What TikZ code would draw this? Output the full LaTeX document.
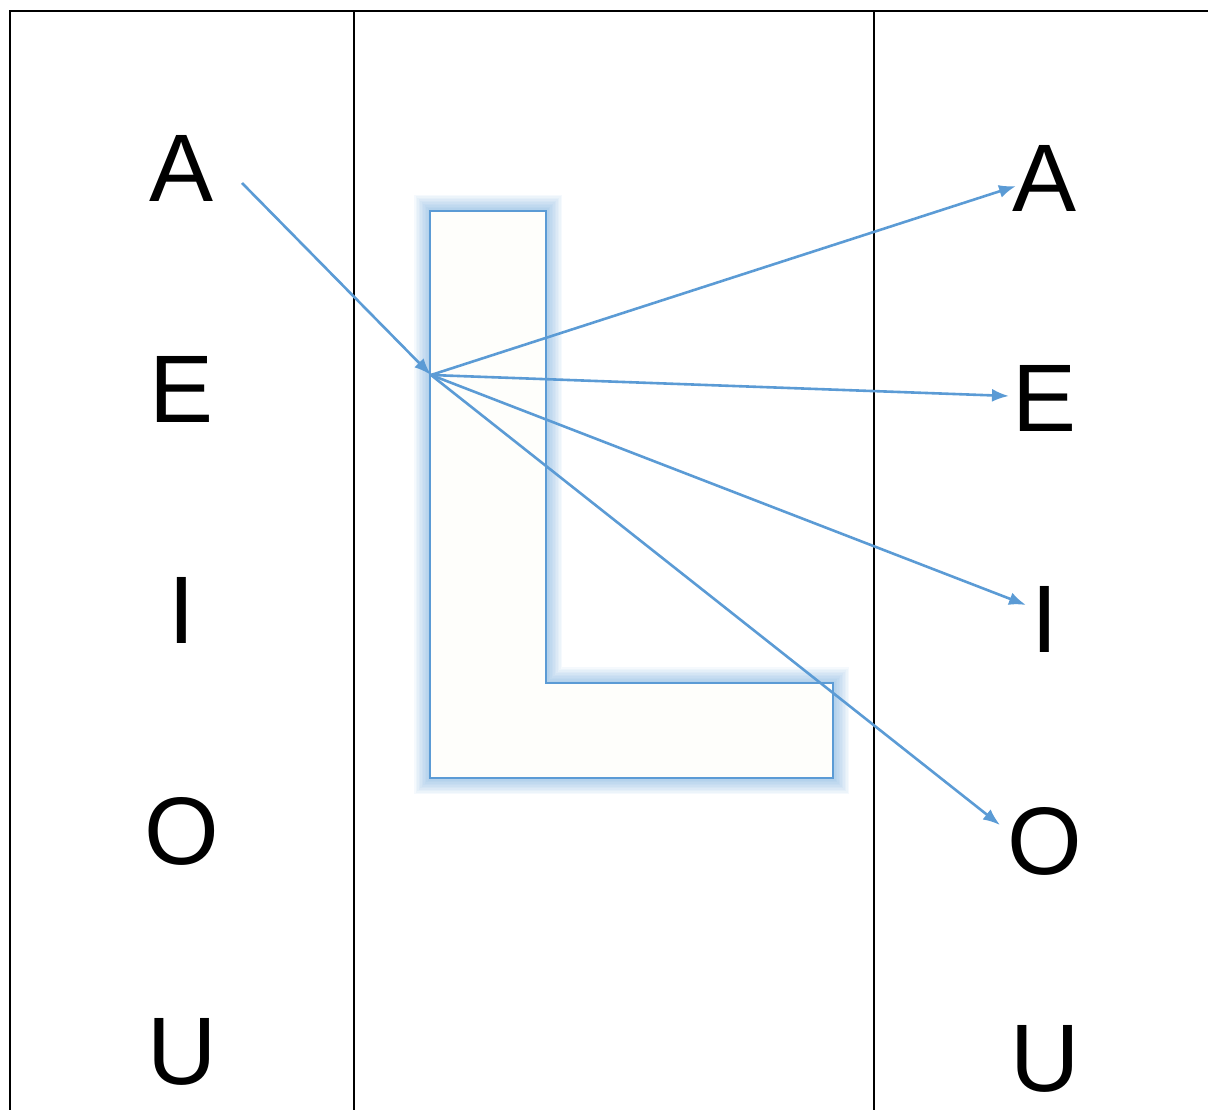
\documentclass[tikz,border=0pt]{standalone}
\usepackage{fontspec}
\setmainfont{Liberation Sans}
\usetikzlibrary{arrows.meta}
\definecolor{lblue}{HTML}{5B9BD5}
\definecolor{lfill}{HTML}{FEFEFB}
\begin{document}
\begin{tikzpicture}[x=1pt,y=-1pt,
  letter/.style={inner sep=0pt,font=\fontsize{96}{100}\selectfont},
  grid/.style={black,line width=2pt},
  conn/.style={lblue,line width=2.6pt,-{Latex[length=17pt,width=13pt]}},
  glow/.style={lblue,line join=miter}]
\useasboundingbox (0,0) rectangle (1208,1110);
% frame
\draw[grid] (10,1110) -- (10,11) -- (1208,11);
\draw[grid] (354,11) -- (354,1110);
\draw[grid] (874,11) -- (874,1110);
% L shape with glow
\def\Lpath{(430,211) -- (546,211) -- (546,683) -- (833,683) -- (833,778) -- (430,778) -- cycle}
\foreach \w in {32,29,...,5}{
  \draw[glow,line width=\w pt,opacity=0.06] \Lpath;
}
\fill[lfill] \Lpath;
\draw[lblue,line width=2pt] \Lpath;
% letters
\node[letter] (la) at (182,168) {A};
\node[letter] (le) at (182,389) {E};
\node[letter] (li) at (182,610) {I};
\node[letter] (lo) at (182,831) {O};
\node[letter] (lu) at (182,1052) {U};
\node[letter] (ra) at (1045,178) {A};
\node[letter] (re) at (1045,398) {E};
\node[letter] (ri) at (1045,619) {I};
\node[letter] (ro) at (1045,841) {O};
\node[letter] (ru) at (1045,1059) {U};
% connectors
\coordinate (src) at (242,183);
\coordinate (hub) at (431,375);
\coordinate (ta) at (1016,186);
\coordinate (te) at (1009,396);
\coordinate (ti) at (1026,605);
\coordinate (to) at (1000,825);
\draw[conn] (src) -- (hub);
\draw[conn] (hub) -- (ta);
\draw[conn] (hub) -- (te);
\draw[conn] (hub) -- (ti);
\draw[conn] (hub) -- (to);
\end{tikzpicture}
\end{document}
